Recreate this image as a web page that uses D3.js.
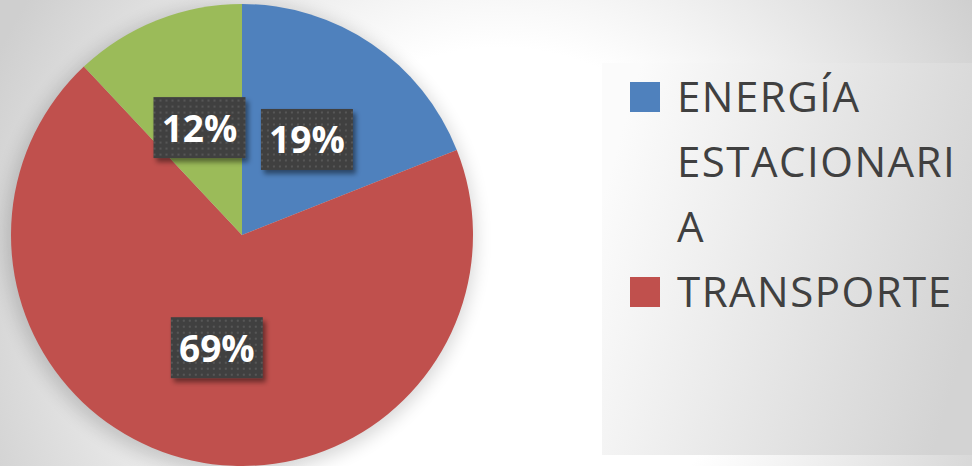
<!DOCTYPE html>
<html>
<head>
<meta charset="utf-8">
<script src="https://cdn.jsdelivr.net/npm/d3@7"></script>
<style>
  html, body { margin: 0; padding: 0; background: #fff; }
  svg { display: block; }
</style>
</head>
<body>
<div id="chart"></div>
<script>
// pie chart - energy share

const FRAME_WIDTH = 972;
const FRAME_HEIGHT = 466;

const categories = ["ENERGÍA ESTACIONARIA", "TRANSPORTE", "OTROS"];
const values = [19, 69, 12];
const colors = ["#4f81bd", "#c0504d", "#9bbb59"];
const legendCount = 2; // only the first two entries show in the legend

const CX = 242, CY = 235, RADIUS = 231;

const svg = d3.select("#chart")
  .append("svg")
    .attr("width", FRAME_WIDTH)
    .attr("height", FRAME_HEIGHT);

const defs = svg.append("defs");

// slide background
const bg = defs.append("radialGradient")
  .attr("id", "bgGrad")
  .attr("gradientUnits", "userSpaceOnUse")
  .attr("cx", 500).attr("cy", 300).attr("r", 560);
bg.append("stop").attr("offset", "0.45").attr("stop-color", "#ffffff");
bg.append("stop").attr("offset", "1").attr("stop-color", "#cfcfcf");

// legend panel
const lg = defs.append("linearGradient")
  .attr("id", "legGrad")
  .attr("x1", 0).attr("y1", 0.35).attr("x2", 1).attr("y2", 0.65);
lg.append("stop").attr("offset", "0").attr("stop-color", "#fbfbfb");
lg.append("stop").attr("offset", "1").attr("stop-color", "#d3d3d3");

// soft glow behind the pie
const glow = defs.append("filter").attr("id", "glow")
  .attr("x", "-20%").attr("y", "-20%").attr("width", "140%").attr("height", "140%");
glow.append("feGaussianBlur").attr("stdDeviation", 9);

// shadow for the label boxes
const sh = defs.append("filter").attr("id", "boxShadow")
  .attr("x", "-20%").attr("y", "-20%").attr("width", "150%").attr("height", "150%");
sh.append("feDropShadow")
  .attr("dx", 3).attr("dy", 4).attr("stdDeviation", 2.5)
  .attr("flood-color", "#000").attr("flood-opacity", 0.45);

// dotted texture on the label boxes
const pat = defs.append("pattern").attr("id", "dots")
  .attr("patternUnits", "userSpaceOnUse")
  .attr("width", 6).attr("height", 6);
pat.append("rect").attr("width", 6).attr("height", 6).attr("fill", "#404040");
pat.append("rect").attr("x", 2).attr("y", 2).attr("width", 2).attr("height", 2).attr("fill", "#575757");

svg.append("rect")
  .attr("width", FRAME_WIDTH).attr("height", FRAME_HEIGHT)
  .attr("fill", "url(#bgGrad)");

// legend panel
svg.append("rect")
  .attr("x", 602).attr("y", 63)
  .attr("width", FRAME_WIDTH - 602).attr("height", 392)
  .attr("fill", "url(#legGrad)");

// pie
const pie = d3.pie().sort(null).value(d => d);
const arcs = pie(values);
const arc = d3.arc().innerRadius(0).outerRadius(RADIUS);

const g = svg.append("g").attr("transform", `translate(${CX},${CY})`);

g.append("circle")
  .attr("cx", -2).attr("cy", 4)
  .attr("r", RADIUS + 4)
  .attr("fill", "#000")
  .attr("opacity", 0.16)
  .attr("filter", "url(#glow)");

g.selectAll("path.slice")
  .data(arcs)
  .enter()
  .append("path")
    .attr("class", "slice")
    .attr("d", arc)
    .attr("fill", (d, i) => colors[i]);

// data labels
const BOX_W = 92, BOX_H = 61;
const labels = g.selectAll("g.lab")
  .data(arcs)
  .enter()
  .append("g")
    .attr("class", "lab")
    .attr("transform", d => {
      const c = arc.centroid(d);
      return `translate(${c[0]},${c[1]})`;
    });

labels.append("rect")
  .attr("x", -BOX_W / 2).attr("y", -BOX_H / 2)
  .attr("width", BOX_W).attr("height", BOX_H)
  .attr("fill", "url(#dots)")
  .attr("filter", "url(#boxShadow)");

labels.append("text")
  .attr("text-anchor", "middle")
  .attr("y", 14)
  .attr("fill", "#fff")
  .style("font-family", "'Open Sans', sans-serif")
  .style("font-weight", 700)
  .style("font-size", "37px")
  .text(d => d.data + "%");

// legend
const LEG_X = 677, LEG_Y = 112, LINE_H = 65, MAX_W = 292;
const FONT = "42px";
const legend = svg.append("g");
let lineNo = 0;

function wrapLines(label, measure) {
  const out = [];
  let cur = "";
  label.split(" ").forEach(word => {
    const trial = cur ? cur + " " + word : word;
    if (measure(trial) <= MAX_W) { cur = trial; return; }
    if (cur) out.push(cur);
    cur = "";
    // break long words by characters
    let piece = "";
    for (const ch of word) {
      if (measure(piece + ch) > MAX_W && piece) { out.push(piece); piece = ch; }
      else piece += ch;
    }
    cur = piece;
  });
  if (cur) out.push(cur);
  return out;
}

const probe = legend.append("text")
  .style("font-family", "'Open Sans', sans-serif")
  .style("font-size", FONT)
  .style("letter-spacing", "1.5px");
const measure = s => { probe.text(s); return probe.node().getComputedTextLength(); };

categories.slice(0, legendCount).forEach((name, i) => {
  const y0 = LEG_Y + lineNo * LINE_H;
  legend.append("rect")
    .attr("x", 630).attr("y", y0 - 30)
    .attr("width", 30).attr("height", 30)
    .attr("fill", colors[i]);
  wrapLines(name, measure).forEach(line => {
    legend.append("text")
      .attr("x", LEG_X).attr("y", LEG_Y + lineNo * LINE_H)
      .attr("fill", "#404040")
      .style("font-family", "'Open Sans', sans-serif")
      .style("font-size", FONT)
      .style("letter-spacing", "1.5px")
      .text(line);
    lineNo++;
  });
});
probe.remove();
</script>
</body>
</html>
